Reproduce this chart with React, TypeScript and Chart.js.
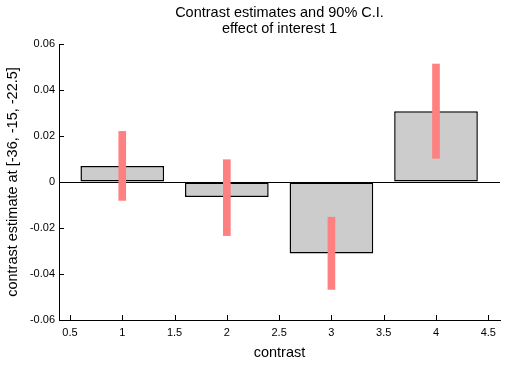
import React, { useEffect, useRef } from 'react';
import { Chart, registerables } from 'chart.js';

Chart.register(...registerables);

const contrasts = [1, 2, 3, 4];
const estimates = [0.007, -0.0065, -0.0311, 0.0308];
const ciLow = [-0.008, -0.0233, -0.0467, 0.0103];
const ciHigh = [0.022, 0.0097, -0.0153, 0.0513];
const xTicks = [0.5, 1, 1.5, 2, 2.5, 3, 3.5, 4, 4.5];
const xTickLabels = ['0.5', '1', '1.5', '2', '2.5', '3', '3.5', '4', '4.5'];
const yTicks = [-0.06, -0.04, -0.02, 0, 0.02, 0.04, 0.06];
const yTickLabels = ['-0.06', '-0.04', '-0.02', '0', '0.02', '0.04', '0.06'];
const titleLines = ['Contrast estimates and 90% C.I.', 'effect of interest 1'];
const xTitle = 'contrast';
const yTitle = 'contrast estimate at [-36, -15, -22.5]';

const FONT = '"Liberation Sans", Arial, Helvetica, sans-serif';

const innerTicks = {
  id: 'innerTicks',
  afterDraw(chart: any) {
    const { ctx, chartArea, scales } = chart;
    ctx.save();
    ctx.strokeStyle = '#000';
    ctx.lineWidth = 1;
    ctx.beginPath();
    for (const v of yTicks) {
      const y = Math.round(scales.y.getPixelForValue(v)) + 0.5;
      ctx.moveTo(chartArea.left, y);
      ctx.lineTo(chartArea.left + 5, y);
    }
    for (const v of xTicks) {
      const x = Math.round(scales.x.getPixelForValue(v)) + 0.5;
      ctx.moveTo(x, chartArea.bottom);
      ctx.lineTo(x, chartArea.bottom - 5);
    }
    ctx.stroke();
    ctx.restore();
  },
};

export default function App() {
  const ref = useRef<HTMLCanvasElement | null>(null);

  useEffect(() => {
    document.body.style.margin = '0';
    const canvas = ref.current;
    if (!canvas) return;
    const chart = new Chart(canvas, {
      type: 'bar',
      data: {
        datasets: [
          {
            label: '90% C.I.',
            data: contrasts.map((x, i) => ({ x, y: [ciLow[i], ciHigh[i]] })) as any,
            backgroundColor: '#ff8080',
            borderWidth: 0,
            barThickness: 7,
            grouped: false,
            stack: 'a',
            order: 0,
          } as any,
          {
            label: 'contrast estimate',
            data: contrasts.map((x, i) => ({ x, y: estimates[i] })) as any,
            backgroundColor: '#cccccc',
            borderColor: '#000000',
            borderWidth: 1.5,
            borderSkipped: false,
            // sample spacing is the 0.5 tick step, so 1.6 gives 0.8 data units
            barPercentage: 1.6,
            categoryPercentage: 1,
            grouped: false,
            stack: 'a',
            order: 1,
          } as any,
        ],
      },
      options: {
        responsive: false,
        animation: false,
        devicePixelRatio: 1,
        layout: { padding: { left: 0, right: 19, top: 0, bottom: 0 } },
        plugins: {
          legend: { display: false },
          tooltip: { enabled: false },
          title: {
            display: true,
            text: titleLines,
            color: '#000',
            fullSize: false,
            font: { family: FONT, size: 14.5, weight: 'normal', lineHeight: 16 / 14.5 },
            padding: { top: 5, bottom: 7 },
          },
        },
        scales: {
          x: {
            type: 'linear',
            min: 0.395,
            max: 4.612,
            offset: false,
            grid: { display: false, drawTicks: false, offset: false },
            border: { display: true, color: '#000', width: 1 },
            afterBuildTicks: (s: any) => {
              s.ticks = xTicks.map((value) => ({ value }));
            },
            afterFit: (s: any) => {
              s.height = 51;
            },
            ticks: {
              color: '#000',
              font: { family: FONT, size: 11 },
              padding: 6,
              autoSkip: false,
              maxRotation: 0,
              callback: (_v: any, i: number) => xTickLabels[i],
            },
            title: {
              display: true,
              text: xTitle,
              color: '#000',
              font: { family: FONT, size: 14.5 },
              padding: { top: 0, bottom: 9 },
            },
          },
          y: {
            min: -0.06,
            max: 0.06,
            stacked: false,
            grid: {
              drawTicks: false,
              lineWidth: 1,
              color: (c: any) => (c.tick && c.tick.value === 0 ? '#000' : 'rgba(0,0,0,0)'),
            },
            border: { display: true, color: '#000', width: 1 },
            afterBuildTicks: (s: any) => {
              s.ticks = yTicks.map((value) => ({ value }));
            },
            afterFit: (s: any) => {
              s.width = 59;
            },
            ticks: {
              color: '#000',
              font: { family: FONT, size: 11 },
              padding: 4,
              autoSkip: false,
              callback: (_v: any, i: number) => yTickLabels[i],
            },
            title: {
              display: true,
              text: yTitle,
              color: '#000',
              font: { family: FONT, size: 14.5 },
              padding: { top: 4, bottom: 0 },
            },
          },
        },
      },
      plugins: [innerTicks],
    });
    return () => chart.destroy();
  }, []);

  return <canvas ref={ref} width={519} height={371} style={{ display: 'block' }} />;
}
